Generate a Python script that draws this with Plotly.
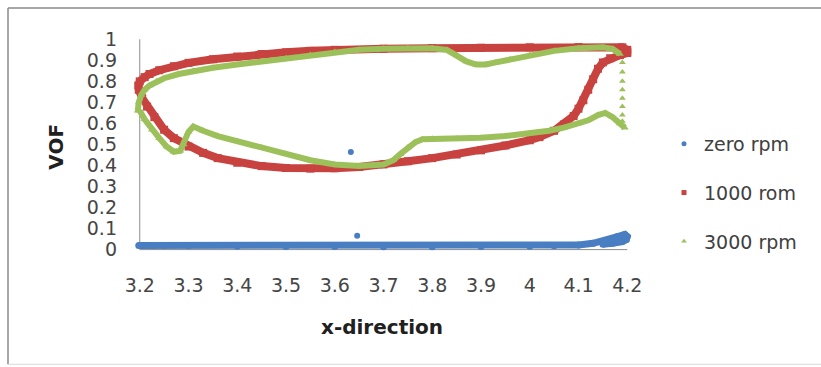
import plotly.graph_objects as go

# ---- data ----
zero_x = [3.198, 3.25, 3.30, 3.40, 3.50, 3.60, 3.70, 3.80, 3.90, 4.00, 4.05, 4.10, 4.13, 4.16, 4.18, 4.195, 4.20, 4.198, 4.19, 4.17, 4.15]
zero_y = [0.020, 0.020, 0.018, 0.016, 0.015, 0.015, 0.014, 0.014, 0.015, 0.016, 0.018, 0.022, 0.030, 0.045, 0.062, 0.072, 0.062, 0.048, 0.038, 0.030, 0.025]
zero_out_x = [3.633, 3.646]
zero_out_y = [0.464, 0.066]

r1000_x = [3.197, 3.20, 3.21, 3.22, 3.24, 3.27, 3.30, 3.35, 3.40, 3.45, 3.50, 3.55, 3.60, 3.70, 3.80, 3.90, 4.00, 4.10, 4.19, 4.20, 4.20,
           4.185, 4.165, 4.15, 4.14, 4.13, 4.12, 4.11, 4.10, 4.09, 4.07, 4.05, 4.02, 4.00, 3.95, 3.90, 3.85, 3.80, 3.75, 3.70, 3.65,
           3.60, 3.55, 3.50, 3.45, 3.40, 3.36, 3.33, 3.30, 3.27, 3.25, 3.23, 3.215, 3.205, 3.198]
r1000_y = [0.78, 0.80, 0.82, 0.835, 0.853, 0.872, 0.888, 0.905, 0.918, 0.93, 0.938, 0.945, 0.95, 0.955, 0.958, 0.96, 0.962, 0.963, 0.962, 0.95, 0.935,
           0.925, 0.91, 0.89, 0.86, 0.81, 0.76, 0.71, 0.67, 0.635, 0.595, 0.565, 0.535, 0.52, 0.495, 0.472, 0.452, 0.435, 0.42, 0.405, 0.393,
           0.387, 0.385, 0.388, 0.397, 0.413, 0.435, 0.46, 0.49, 0.53, 0.57, 0.63, 0.68, 0.72, 0.76]

g_up_x = [3.196, 3.198, 3.203, 3.21, 3.22, 3.235, 3.25, 3.28, 3.31, 3.35, 3.40, 3.45, 3.50, 3.55, 3.60, 3.65, 3.70, 3.75, 3.80, 3.83,
          3.85, 3.87, 3.89, 3.91, 3.93, 3.96, 4.00, 4.05, 4.10, 4.15, 4.17, 4.185]
g_up_y = [0.66, 0.70, 0.735, 0.76, 0.78, 0.80, 0.815, 0.835, 0.85, 0.865, 0.88, 0.895, 0.91, 0.925, 0.94, 0.95, 0.955, 0.957, 0.957, 0.95,
          0.925, 0.895, 0.88, 0.88, 0.89, 0.905, 0.925, 0.945, 0.957, 0.962, 0.955, 0.93]
g_edge_x = [4.19, 4.19, 4.19, 4.19, 4.19, 4.19, 4.19, 4.19]
g_edge_y = [0.89, 0.845, 0.80, 0.76, 0.72, 0.68, 0.64, 0.61]
g_lo_x = [4.195, 4.185, 4.17, 4.155, 4.14, 4.12, 4.10, 4.07, 4.04, 4.00, 3.95, 3.90, 3.85, 3.80, 3.78, 3.765, 3.75, 3.735, 3.72, 3.70,
          3.65, 3.60, 3.55, 3.50, 3.45, 3.40, 3.36, 3.33, 3.31, 3.30, 3.29, 3.283, 3.27, 3.255, 3.24, 3.225, 3.21, 3.20]
g_lo_y = [0.58, 0.60, 0.63, 0.65, 0.64, 0.615, 0.60, 0.58, 0.565, 0.553, 0.54, 0.532, 0.527, 0.527, 0.525, 0.51, 0.485, 0.455, 0.425, 0.405,
          0.398, 0.405, 0.425, 0.455, 0.485, 0.515, 0.54, 0.565, 0.585, 0.56, 0.50, 0.47, 0.465, 0.49, 0.53, 0.57, 0.62, 0.66]

series_names = ["zero rpm", "1000 rom", "3000 rpm"]
x_ticks = [3.2, 3.3, 3.4, 3.5, 3.6, 3.7, 3.8, 3.9, 4.0, 4.1, 4.2]
x_tick_text = ["3.2", "3.3", "3.4", "3.5", "3.6", "3.7", "3.8", "3.9", "4", "4.1", "4.2"]
y_ticks = [0, 0.1, 0.2, 0.3, 0.4, 0.5, 0.6, 0.7, 0.8, 0.9, 1.0]
y_tick_text = ["0", "0.1", "0.2", "0.3", "0.4", "0.5", "0.6", "0.7", "0.8", "0.9", "1"]

BLUE = "#4A7EC2"
RED = "#C8423F"
GREEN = "#9CC05A"
FONT = "DejaVu Sans"

fig = go.Figure()

fig.add_trace(go.Scatter(x=zero_x, y=zero_y, mode="lines+markers", showlegend=False,
                         line=dict(color=BLUE, width=7), marker=dict(symbol="circle", size=7, color=BLUE)))
fig.add_trace(go.Scatter(x=zero_out_x, y=zero_out_y, mode="markers", showlegend=False,
                         marker=dict(symbol="circle", size=6, color=BLUE)))
fig.add_trace(go.Scatter(x=r1000_x, y=r1000_y, mode="lines+markers", showlegend=False,
                         line=dict(color=RED, width=8), marker=dict(symbol="square", size=8, color=RED)))
fig.add_trace(go.Scatter(x=g_up_x, y=g_up_y, mode="lines+markers", showlegend=False,
                         line=dict(color=GREEN, width=6), marker=dict(symbol="triangle-up", size=7, color=GREEN)))
fig.add_trace(go.Scatter(x=g_edge_x, y=g_edge_y, mode="markers", showlegend=False,
                         marker=dict(symbol="triangle-up", size=6, color=GREEN)))
fig.add_trace(go.Scatter(x=g_lo_x, y=g_lo_y, mode="lines+markers", showlegend=False,
                         line=dict(color=GREEN, width=6), marker=dict(symbol="triangle-up", size=7, color=GREEN)))

# legend entries
for name, col, sym, grp in zip(series_names, [BLUE, RED, GREEN], ["circle", "square", "triangle-up"], ["a", "b", "c"]):
    fig.add_trace(go.Scatter(x=[None], y=[None], mode="markers", name=name, legendgroup=grp,
                             marker=dict(symbol=sym, size=5, color=col)))

L, T, W, H = 130, 33, 507, 225.5
px = lambda v: (v - L) / W
py = lambda v: (T + H - v) / H
fig.update_layout(
    width=821, height=367,
    margin=dict(l=L, r=821 - L - W, t=T, b=367 - T - H, pad=0),
    paper_bgcolor="white", plot_bgcolor="white",
    font=dict(family=FONT, size=19, color="#404040"),
    xaxis=dict(range=[3.18, 4.22], tickvals=x_ticks, ticktext=x_tick_text, showgrid=False,
               zeroline=False, showline=False, ticks="", ticklabelstandoff=14,
               tickfont=dict(family=FONT, size=19, color="#454545")),
    yaxis=dict(range=[-0.04, 1.03], tickvals=y_ticks, ticktext=y_tick_text, showgrid=False,
               zeroline=False, showline=False, ticks="", ticklabelstandoff=12,
               tickfont=dict(family=FONT, size=19, color="#454545")),
    legend=dict(xref="container", yref="container", x=664 / 821, y=1 - 125 / 367,
                xanchor="left", yanchor="top", traceorder="grouped", tracegroupgap=21,
                font=dict(family=FONT, size=19, color="#404040"), bgcolor="rgba(0,0,0,0)"),
    shapes=[
        dict(type="line", xref="x", yref="y", x0=3.2, x1=3.2, y0=0, y1=1, layer="below",
             line=dict(color="#8C8C8C", width=1)),
        dict(type="line", xref="x", yref="y", x0=3.2, x1=4.2, y0=0, y1=0, layer="below",
             line=dict(color="#8C8C8C", width=1)),
        dict(type="line", xref="paper", yref="paper", x0=px(8), x1=px(821), y0=py(8), y1=py(8),
             line=dict(color="#8A8A8A", width=1.5), layer="below"),
        dict(type="line", xref="paper", yref="paper", x0=px(8), x1=px(8), y0=py(8), y1=py(365),
             line=dict(color="#8A8A8A", width=1.5), layer="below"),
        dict(type="line", xref="paper", yref="paper", x0=px(8), x1=px(821), y0=py(365), y1=py(365),
             line=dict(color="#D8D8D8", width=1), layer="below"),
    ],
    annotations=[
        dict(text="<b>x-direction</b>", xref="paper", yref="paper", x=px(382), y=py(328),
             showarrow=False, font=dict(family=FONT, size=20, color="#202020"), xanchor="center", yanchor="middle"),
        dict(text="<b>VOF</b>", xref="paper", yref="paper", x=px(56), y=py(147),
             showarrow=False, textangle=-90, font=dict(family=FONT, size=20, color="#202020"),
             xanchor="center", yanchor="middle"),
    ],
)

fig.write_html("out.html")
